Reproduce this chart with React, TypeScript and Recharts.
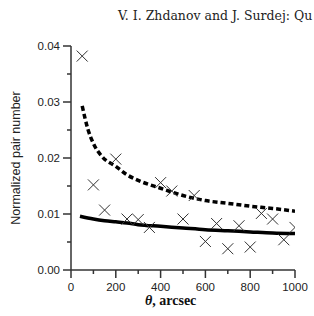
import React from "react";
import { ComposedChart, XAxis, YAxis, Scatter, Line } from "recharts";

const separationArcsec = [50, 100, 150, 200, 250, 300, 350, 400, 450, 500, 550, 600, 650, 700, 750, 800, 850, 900, 950, 1000];
const pairNumber = [0.0382, 0.0152, 0.0107, 0.0198, 0.0091, 0.0090, 0.0076, 0.0156, 0.0141, 0.0091, 0.0133, 0.0051, 0.0083, 0.0038, 0.0079, 0.0041, 0.0101, 0.0091, 0.0054, 0.0076];

const dashedX = [50, 75, 100, 140, 200, 250, 300, 400, 500, 600, 700, 800, 900, 1000];
const dashedY = [0.0293, 0.0252, 0.0226, 0.0202, 0.0185, 0.0170, 0.0160, 0.0146, 0.0133, 0.0124, 0.0119, 0.0114, 0.0110, 0.0105];

const solidX = [40, 100, 150, 200, 250, 300, 400, 500, 600, 700, 800, 900, 1000];
const solidY = [0.0096, 0.0091, 0.0088, 0.0086, 0.0084, 0.0081, 0.0078, 0.0075, 0.0072, 0.0070, 0.0068, 0.0066, 0.0065];

const xTicks = [0, 100, 200, 300, 400, 500, 600, 700, 800, 900, 1000];
const yTicks = [0, 0.005, 0.01, 0.015, 0.02, 0.025, 0.03, 0.035, 0.04];

const headerText = "V. I. Zhdanov and J. Surdej: Qu";
const yTitle = "Normalized pair number";
const xTitleSymbol = "θ";
const xTitleRest = ", arcsec";

const points = separationArcsec.map((x, i) => ({ x, y: pairNumber[i] }));
const dashed = dashedX.map((x, i) => ({ x, y: dashedY[i] }));
const solid = solidX.map((x, i) => ({ x, y: solidY[i] }));

const AXIS = "#333";
const TICK_FONT = "'Liberation Sans', Arial, sans-serif";

const XTick = (props: any) => {
  const { x, y, payload, index } = props;
  const major = index % 2 === 0;
  return (
    <g>
      <line x1={x} x2={x} y1={y} y2={y + (major ? 8 : 4)} stroke={AXIS} strokeWidth={1.5} />
      {major && (
        <text x={x} y={y + 21} textAnchor="middle" fontSize={11.5} fontFamily={TICK_FONT} fill="#222">
          {payload.value}
        </text>
      )}
    </g>
  );
};

const YTick = (props: any) => {
  const { x, y, payload, index } = props;
  const major = index % 2 === 0;
  return (
    <g>
      <line x1={x} x2={x - (major ? 8 : 4)} y1={y} y2={y} stroke={AXIS} strokeWidth={1.5} />
      {major && (
        <text x={x - 11} y={y + 4} textAnchor="end" fontSize={11.5} fontFamily={TICK_FONT} fill="#222">
          {Number(payload.value).toFixed(2)}
        </text>
      )}
    </g>
  );
};

const Cross = (props: any) => {
  const { cx, cy } = props;
  const h = 5.5;
  return (
    <g>
      <line x1={cx - h} y1={cy - h} x2={cx + h} y2={cy + h} stroke="#333" strokeWidth={1} />
      <line x1={cx - h} y1={cy + h} x2={cx + h} y2={cy - h} stroke="#333" strokeWidth={1} />
    </g>
  );
};

export default function App() {
  return (
    <div style={{ position: "absolute", left: 0, top: 0, width: 314, height: 316, background: "#fff", overflow: "hidden" }}>
      <ComposedChart width={314} height={316} margin={{ top: 46, right: 19, bottom: 0, left: 0 }}>
        <XAxis
          type="number"
          dataKey="x"
          domain={[0, 1000]}
          ticks={xTicks}
          interval={0}
          height={46}
          tickSize={0}
          tickMargin={0}
          tickLine={false}
          axisLine={{ stroke: AXIS, strokeWidth: 1.5 }}
          tick={<XTick />}
          allowDataOverflow
        />
        <YAxis
          type="number"
          dataKey="y"
          domain={[0, 0.04]}
          ticks={yTicks}
          interval={0}
          width={71}
          tickSize={0}
          tickMargin={0}
          tickLine={false}
          axisLine={{ stroke: AXIS, strokeWidth: 1.5 }}
          tick={<YTick />}
          allowDataOverflow
        />
        <Line data={dashed} dataKey="y" type="monotone" stroke="#000" strokeWidth={3.5} strokeDasharray="5 3" dot={false} isAnimationActive={false} />
        <Line data={solid} dataKey="y" type="monotone" stroke="#000" strokeWidth={3.5} dot={false} isAnimationActive={false} />
        <Scatter data={points} dataKey="y" shape={<Cross />} isAnimationActive={false} />
      </ComposedChart>
      <svg width={314} height={316} style={{ position: "absolute", left: 0, top: 0, pointerEvents: "none" }}>
        <text x={118} y={20} fontSize={12.5} fontFamily="'DejaVu Serif', serif" fill="#222">{headerText}</text>
        <text transform="translate(19.5,158) rotate(-90)" textAnchor="middle" fontSize={12.5} fontFamily={TICK_FONT} fill="#222">{yTitle}</text>
        <text x={145} y={305} fontSize={14} fontFamily="'Liberation Serif', serif" fontWeight="bold" fill="#111">
          <tspan fontStyle="italic">{xTitleSymbol}</tspan>
          <tspan>{xTitleRest}</tspan>
        </text>
      </svg>
    </div>
  );
}
